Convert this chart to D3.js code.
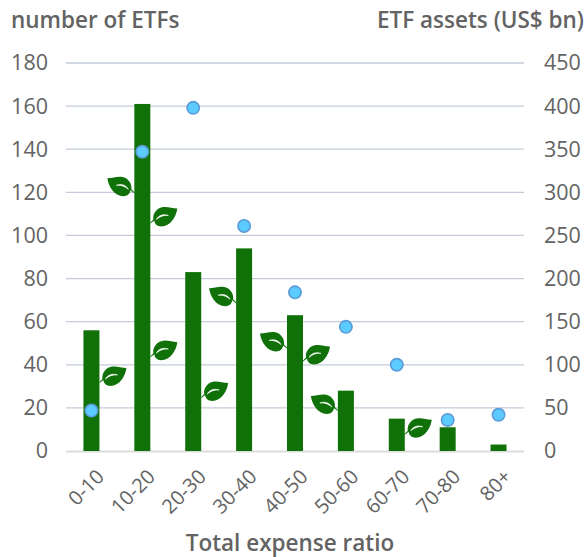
<!DOCTYPE html>
<html><head><meta charset="utf-8">
<script src="https://cdn.jsdelivr.net/npm/d3@7/dist/d3.min.js"></script>
<style>html,body{margin:0;padding:0;background:#fff}svg{display:block}text{font-family:"Open Sans",sans-serif}</style>
</head><body><svg id="c" width="585" height="557"></svg>
<script>
const categories=["0-10","10-20","20-30","30-40","40-50","50-60","60-70","70-80","80+"];
const etfCounts=[56,161,83,94,63,28,15,11,3];
const etfAssets=[47,347,398,261,184,144,100,36,42];
const leafBars=[0,1,1,1,2,3,4,4,5,6];
const leafValues=[32,120,106,44,25,69,48,42,19,8];
const leafSides=[1,-1,1,1,1,-1,-1,1,-1,1];
const leftTicks=[0,20,40,60,80,100,120,140,160,180];
const rightTicks=[0,50,100,150,200,250,300,350,400,450];

const svg=d3.select("#c");
const x=d3.scaleBand().domain(categories).range([66,524]);
const yL=d3.scaleLinear().domain([0,180]).range([451,63]);
const yR=d3.scaleLinear().domain([0,450]).range([451,63]);
const grey="#636363",barW=16;

svg.append("g").selectAll("line").data(leftTicks.slice(1)).join("line")
 .attr("x1",66).attr("x2",524).attr("y1",d=>yL(d)).attr("y2",d=>yL(d))
 .attr("stroke","#c4ccda").attr("stroke-width",1.3);
svg.append("line").attr("x1",66).attr("x2",524).attr("y1",451.5).attr("y2",451.5).attr("stroke","#dcdcdc").attr("stroke-width",2);

const axL=svg.append("g").attr("transform","translate(48,0)").call(d3.axisLeft(yL).tickValues(leftTicks).tickSize(0).tickPadding(0));
const axR=svg.append("g").attr("transform","translate(544,0)").call(d3.axisRight(yR).tickValues(rightTicks).tickSize(0).tickPadding(0));
[axL,axR].forEach(a=>{a.select(".domain").remove();a.selectAll("text").attr("font-size",21.5).attr("fill",grey).style("font-family",'"Open Sans",sans-serif');});

const axB=svg.append("g").attr("transform","translate(0,451)").call(d3.axisBottom(x).tickSize(0));
axB.select(".domain").remove();
axB.selectAll("text").attr("font-size",20).attr("fill",grey).style("font-family",'"Open Sans",sans-serif')
 .attr("text-anchor","end").attr("dy",0).attr("y",0).attr("transform","translate(14,27) rotate(-45)");

svg.append("g").selectAll("rect").data(categories).join("rect")
 .attr("x",d=>x(d)+x.bandwidth()/2-barW/2).attr("width",barW)
 .attr("y",(d,i)=>yL(etfCounts[i])).attr("height",(d,i)=>451-yL(etfCounts[i])).attr("fill","#107109");

const leafPath="M0,0 L3,-3 C2,-9 7,-15 13,-15.5 C18,-16 22,-14 27,-14 C26,-6 20,4 11,4 C7,4 4,1 4,-2 L0,1 Z";
const leaves=svg.append("g").selectAll("g").data(leafBars).join("g")
 .attr("transform",(b,i)=>{const cx=x(categories[b])+x.bandwidth()/2+leafSides[i]*barW/2;
   return `translate(${cx},${yL(leafValues[i])}) scale(${leafSides[i]},1)`;});
leaves.append("path").attr("d",leafPath).attr("fill","#107109");
leaves.append("path").attr("d","M6,-3 C8,-7 13,-9 18,-7 C14,-7.5 10,-6.5 6,-3 Z").attr("fill","#fff").attr("stroke","#fff").attr("stroke-width",.6);

svg.append("g").selectAll("circle").data(categories).join("circle")
 .attr("cx",d=>x(d)+x.bandwidth()/2).attr("cy",(d,i)=>yR(etfAssets[i])).attr("r",6.2)
 .attr("fill","#5ccbff").attr("stroke","#5a9bd8").attr("stroke-width",1.6);

svg.append("text").attr("x",11).attr("y",28).attr("font-size",22.5).attr("font-weight",600).attr("fill",grey).text("number of ETFs");
svg.append("text").attr("x",584).attr("y",28).attr("text-anchor","end").attr("font-size",22.5).attr("font-weight",600).attr("fill",grey).text("ETF assets (US$ bn)");
svg.append("text").attr("x",290).attr("y",550.5).attr("text-anchor","middle").attr("font-size",22.5).attr("font-weight",600).attr("fill",grey).text("Total expense ratio");
</script></body></html>
